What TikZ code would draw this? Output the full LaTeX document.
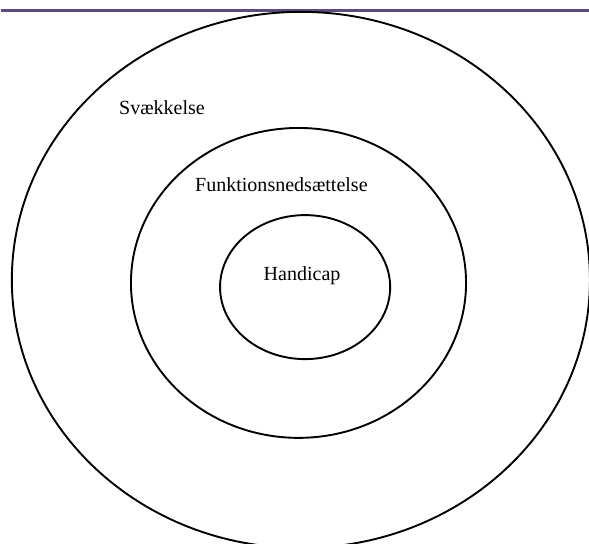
\documentclass[tikz,border=0pt]{standalone}
\usepackage{fontspec}
\setmainfont{Liberation Serif}
\usepackage{tikz}
\usepackage{xcolor}
\usetikzlibrary{shapes.geometric}

\definecolor{rulepurple}{HTML}{604A7B}

\begin{document}
\begin{tikzpicture}[
    ring/.style={draw, ellipse, line width=1.8pt, inner sep=0pt},
    lbl/.style={font=\fontsize{19}{23}\selectfont, inner sep=0pt},
]
    \useasboundingbox (0, 0) rectangle (19.633, -18.133);

    \coordinate (ruleL) at (0.03, -0.35);
    \coordinate (ruleR) at (19.7, -0.35);
    \draw[rulepurple, line width=3.2pt] (ruleL) -- (ruleR);

    \node[ring, minimum width=19.27cm, minimum height=17.87cm] (outer)  at (10.03, -9.33) {};
    \node[ring, minimum width=11.17cm, minimum height=10.33cm] (middle) at (9.95, -9.43) {};
    \node[ring, minimum width=5.67cm,  minimum height=4.8cm]   (inner)  at (10.17, -9.57) {};

    \node[lbl] (svaek)  at (5.4, -3.6)   {Svækkelse};
    \node[lbl] (funk)   at (9.38, -6.17) {Funktionsnedsættelse};
    \node[lbl] (handi)  at (10.07, -9.2) {Handicap};
\end{tikzpicture}
\end{document}
